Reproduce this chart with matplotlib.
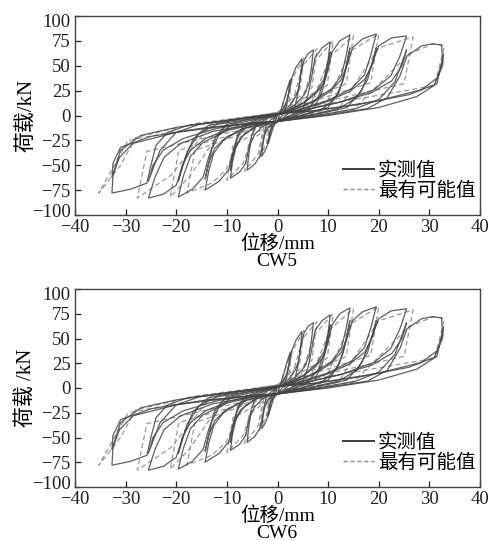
import matplotlib
matplotlib.use("Agg")
import matplotlib.pyplot as plt
from matplotlib.lines import Line2D
from matplotlib.transforms import ScaledTranslation

FONT = ['Liberation Serif', 'Noto Sans CJK SC']
plt.rcParams['font.family'] = FONT
plt.rcParams['axes.unicode_minus'] = True

# ---------------- data ----------------
x_ticks = [-40, -30, -20, -10, 0, 10, 20, 30, 40]
y_ticks = [-100, -75, -50, -25, 0, 25, 50, 75, 100]
panel_names = ["CW5", "CW6"]
y_labels = ["荷载/kN", "荷载 /kN"]
x_label = "位移/mm"
legend_labels = ["实测值", "最有可能值"]

measured_loops = [
    [(0,-6),(0.6,4),(1.2,14),(1.8,25),(2.5,36),(2.3,25),(1.8,14),(1,6),(0,0),
     (-0.6,-8),(-1.1,-16),(-1.8,-28),(-1.6,-18),(-1,-11),(0,-6)],
    [(0,-6),(0.9,0),(1.8,10),(2.3,24),(2.7,36),(3.6,48),(4.8,57),(4.6,42),(4.2,28),(3.6,19),(2.4,10),(1,3),(0,1),
     (-0.6,-3),(-1.2,-10),(-1.6,-20),(-2,-30),(-2.5,-36),(-3.1,-41),(-2.9,-30),(-2.6,-21),(-2,-13),(-1,-8),(0,-6)],
    [(0,-6),(1.7,0),(3.4,8),(4.1,24),(4.6,42),(5.2,55),(6,62),(7.1,66),(6.7,48),(6.2,32),(5.3,21),(3.5,11),(1.4,4),(0,1),
     (-1.1,-3),(-2.2,-9),(-2.6,-18),(-3,-30),(-3.4,-40),(-4.5,-49),(-6,-55),(-5.7,-40),(-5.3,-28),(-4.5,-19),(-3,-11),(-1.2,-7),(0,-6)],
    [(0,-6),(2.5,0),(5,7),(6,20),(6.8,40),(7.4,58),(8.8,68),(10.4,74),(10,56),(9.2,37),(7.8,25),(5.2,13),(2,5),(0,1),
     (-2,-3),(-4.2,-9),(-5.1,-20),(-5.7,-34),(-6.3,-48),(-7.5,-57),(-9.3,-63),(-8.9,-47),(-8.2,-32),(-7,-21),(-4.6,-12),(-1.9,-7),(0,-6)],
    [(0,-6),(3,0),(6,7),(8,18),(9.3,36),(10.4,64),(10,48),(9.2,33),(7.6,22),(5,12),(2,4),(0,1),
     (-3,-4),(-5.8,-9),(-7.6,-19),(-8.6,-33),(-9.3,-55),(-8.9,-41),(-8.1,-29),(-6.6,-19),(-4.3,-11),(-1.7,-7),(0,-6)],
    [(0,-6),(3.6,0),(7.3,8),(8.8,24),(9.9,45),(10.8,64),(12.3,75),(14.3,81),(13.6,61),(12.6,40),(10.7,27),(7.2,15),(2.9,5),(0,1),
     (-3.3,-3),(-6.5,-9),(-7.9,-20),(-8.8,-37),(-9.6,-54),(-11.5,-66),(-14.3,-75),(-13.6,-56),(-12.6,-38),(-10.7,-25),(-7.2,-14),(-2.9,-8),(0,-6)],
    [(0,-6),(4.5,0),(9,7),(11.5,18),(13,36),(14.3,68),(13.8,52),(12.6,36),(10.4,24),(6.8,13),(2.7,5),(0,1),
     (-4.5,-4),(-9,-9),(-11.5,-19),(-13,-34),(-14.3,-64),(-13.6,-48),(-12.4,-33),(-10.2,-22),(-6.6,-13),(-2.6,-7),(0,-6)],
    [(0,-6),(5,0),(10,8),(12.2,24),(13.6,48),(14.8,68),(16.8,77),(19.5,82),(18.5,62),(17.2,41),(14.6,27),(9.8,15),(3.9,5),(0,1),
     (-5,-3),(-10,-9),(-12.2,-21),(-13.6,-42),(-14.7,-62),(-16.8,-74),(-19.6,-82),(-18.6,-61),(-17.2,-41),(-14.7,-27),(-9.8,-15),(-3.9,-8),(0,-6)],
    [(0,-6),(6,0),(12,7),(15.5,17),(17.8,36),(19.5,68),(18.8,52),(17.2,36),(14.2,24),(9.3,13),(3.7,5),(0,1),
     (-6,-4),(-12,-9),(-15.5,-18),(-17.8,-36),(-19.6,-66),(-18.8,-50),(-17.2,-35),(-14.2,-23),(-9.3,-13),(-3.7,-7),(0,-6)],
    [(0,-6),(6.8,0),(13.7,8),(16.6,25),(18.5,50),(20,70),(22.5,78),(25.5,80),(24.2,60),(22.4,40),(19.1,26),(12.8,14),(5.1,5),(0,1),
     (-6.9,-3),(-13.7,-10),(-16.7,-24),(-18.6,-48),(-20,-70),(-22.5,-79),(-25.5,-83),(-24.2,-62),(-22.4,-42),(-19.1,-28),(-12.8,-16),(-5.1,-9),(0,-6)],
    [(0,-6),(8,0),(15.5,7),(20,16),(23.2,34),(25.5,66),(24.6,50),(22.6,35),(18.6,23),(12,13),(4.8,5),(0,1),
     (-8,-4),(-15.5,-9),(-20,-17),(-23.2,-35),(-25.5,-66),(-24.6,-50),(-22.6,-35),(-18.6,-23),(-12,-13),(-4.8,-7),(0,-6)],
    [(0,-6),(9,0),(17.8,7),(21.7,18),(24.2,40),(25.6,60),(28.5,70),(30.5,72),(32.4,71),(32.6,55),(31.6,38),(28.5,26),(20,15),(8,5),(0,2),
     (-9,-4),(-17.8,-10),(-21.7,-17),(-24,-30),(-25,-50),(-25.8,-68),(-29,-74),(-32.7,-78),(-32.5,-60),(-31.2,-42),(-28.5,-28),(-20,-17),(-8,-9),(0,-6)],
    [(0,-6),(10,0),(20,8),(27.5,19),(31.5,32),(32.8,62),(32.6,50),(31,31),(26,21),(16,11),(6,4),(0,2),
     (-10,-5),(-20,-12),(-27,-20),(-31,-35),(-32.7,-62),(-32.5,-48),(-31,-32),(-25,-21),(-14,-12),(0,-6)],
]

# most probable (model) loops
probable_loops = [
    [(0,-6),(1.2,14),(2.8,38),(2.3,14),(0,2),(-1,-12),(-2,-30),(-1.6,-10),(0,-6)],
    [(0,-6),(1.5,8),(3,38),(5.2,58),(4.4,25),(0,3),(-1.5,-8),(-2.2,-28),(-3.6,-43),(-3,-20),(0,-6)],
    [(0,-6),(2.5,6),(5,50),(7.8,67),(6.8,28),(0,3),(-2.5,-6),(-3.8,-38),(-6.5,-56),(-5.6,-26),(0,-6)],
    [(0,-6),(4,4),(7.5,55),(11,75),(9.8,30),(0,3),(-4,-6),(-6.8,-48),(-10,-65),(-8.8,-30),(0,-6)],
    [(0,-6),(6,4),(10.5,60),(15,80),(13.6,32),(0,3),(-6,-6),(-10.2,-55),(-13,-68),(-17.9,-78),(-16.3,-35),(0,-6)],
    [(0,-6),(9,5),(14.5,65),(20,82),(18.4,33),(0,3),(-10,-7),(-17.5,-62),(-21.2,-82),(-19.5,-35),(0,-6)],
    [(0,-6),(12,6),(20,68),(26.8,79),(25,32),(0,3),(-13,-8),(-21,-60),(-27.7,-83),(-25.8,-36),(0,-6)],
    [(0,-6),(15,6),(26,62),(30.8,72),(33,70),(31,30),(0,3),(-16,-8),(-28,-22),(-31,-50),(-35.3,-78),(-29.5,-25),(-20,-16),(0,-6)],
]

# ---------------- figure ----------------
fig = plt.figure(figsize=(4.9, 5.41), dpi=100)
axes_rects = [
    [75/490, 1-215/541, 405/490, 199/541],
    [75/490, 1-487/541, 405/490, 198/541],
]
xlabel_px = [(244-215)/199, (516-487)/198]
name_y = [262/541, 534/541]

for i, rect in enumerate(axes_rects):
    ax = fig.add_axes(rect)
    for loop in probable_loops:
        xs = [p[0] for p in loop]
        ys = [p[1] for p in loop]
        ax.plot(xs, ys, color='#999999', lw=0.9, ls=(0, (4, 2.5)))
    for loop in measured_loops:
        xs = [p[0] for p in loop]
        ys = [p[1] for p in loop]
        ax.plot(xs, ys, color='#444444', lw=0.9, alpha=0.85)

    ax.set_xlim(-40, 40)
    ax.set_ylim(-100, 100)
    ax.set_xticks(x_ticks)
    ax.set_yticks(y_ticks)
    ax.tick_params(direction='in', length=4, width=0.9, labelsize=13.5, pad=3,
                   colors='#222222')
    yt = ax.yaxis.get_major_ticks()
    lab0 = yt[0].label1
    lab0.set_transform(lab0.get_transform() + ScaledTranslation(0, 3/72, fig.dpi_scale_trans))
    labn = yt[-1].label1
    labn.set_transform(labn.get_transform() + ScaledTranslation(0, -3/72, fig.dpi_scale_trans))
    for s in ax.spines.values():
        s.set_linewidth(1.0)
        s.set_color('#444444')
    ax.set_ylabel(y_labels[i], fontsize=15, family=FONT, va='center')
    ax.yaxis.set_label_coords(-49/405, 0.5)
    ax.set_xlabel(x_label, fontsize=14, family=FONT, va='center')
    ax.xaxis.set_label_coords(0.5, -xlabel_px[i])

    handles = [Line2D([], [], color='#3c3c3c', lw=1.4),
               Line2D([], [], color='#8c8c8c', lw=1.0, ls=(0, (3, 2)))]
    ax.legend(handles, legend_labels, loc='lower right', frameon=False,
              handlelength=1.6, handletextpad=0.2,
              borderaxespad=0.0, borderpad=0.25, labelspacing=0.1,
              bbox_to_anchor=(1.0, 0.05), prop={'family': FONT, 'size': 14})

    fig.text(277/490, 1-name_y[i], panel_names[i], ha='center', va='center',
             fontsize=14, family=FONT)

fig.savefig("out.png", dpi=100)
